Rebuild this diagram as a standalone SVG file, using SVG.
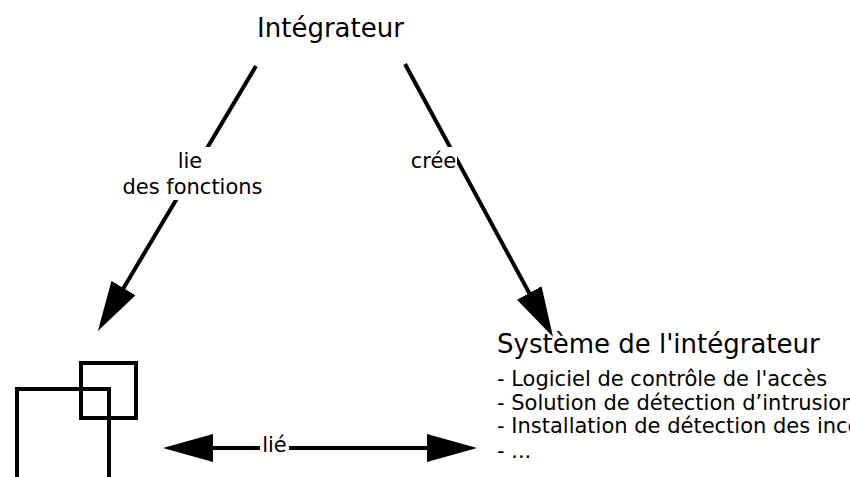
<svg xmlns="http://www.w3.org/2000/svg" width="850" height="477" viewBox="0 0 850 477">
<style>
text{font-family:"DejaVu Sans","Noto Sans",sans-serif;fill:#000}
.title{font-size:26px}
.lbl{font-size:21px}
.item{font-size:21px}
.conn{stroke:#000;stroke-width:4;fill:none}
.bg{fill:#fff}
.sq{fill:none;stroke:#000;stroke-width:4}
</style>
<defs>
<marker id="ah" viewBox="0 0 50 28" refX="40" refY="14" markerWidth="50" markerHeight="28" markerUnits="userSpaceOnUse" orient="auto-start-reverse">
<path d="M0,0 L50,14 L0,28 Z" fill="#000"/>
</marker>
</defs>
<g id="connectors">
<line class="conn" x1="256" y1="66" x2="103" y2="322.4" marker-end="url(#ah)"/>
<line class="conn" x1="405" y1="64" x2="548.3" y2="328.2" marker-end="url(#ah)"/>
<line class="conn" x1="173" y1="448" x2="467" y2="448" marker-start="url(#ah)" marker-end="url(#ah)"/>
<g id="label-lie">
<rect class="bg" x="175" y="147" width="37" height="26"/>
<rect class="bg" x="119" y="173" width="148" height="27"/>
<text class="lbl" x="190" y="168" text-anchor="middle">lie</text>
<text class="lbl" x="192.5" y="194" text-anchor="middle">des fonctions</text>
</g>
<g id="label-cree">
<rect class="bg" x="409" y="147" width="48" height="27"/>
<text class="lbl" x="433.5" y="168" text-anchor="middle">crée</text>
</g>
<g id="label-lie2">
<rect class="bg" x="260" y="436" width="29" height="22"/>
<text class="lbl" x="274.5" y="452" text-anchor="middle">lié</text>
</g>
</g>
<g id="integrateur">
<text class="title" x="330.5" y="37" text-anchor="middle">Intégrateur</text>
</g>
<g id="systeme">
<text class="title" x="497" y="353">Système de l'intégrateur</text>
<text class="item" x="497" y="386">- Logiciel de contrôle de l'accès</text>
<text class="item" x="497" y="409.5">- Solution de détection d’intrusion</text>
<text class="item" x="497" y="433">- Installation de détection des incendies</text>
<text class="item" x="497" y="458">- ...</text>
</g>
<g id="squares">
<rect class="sq" x="81" y="363" width="55" height="55"/>
<path class="sq" d="M17,480 L17,389 L109,389 L109,480"/>
</g>
</svg>
